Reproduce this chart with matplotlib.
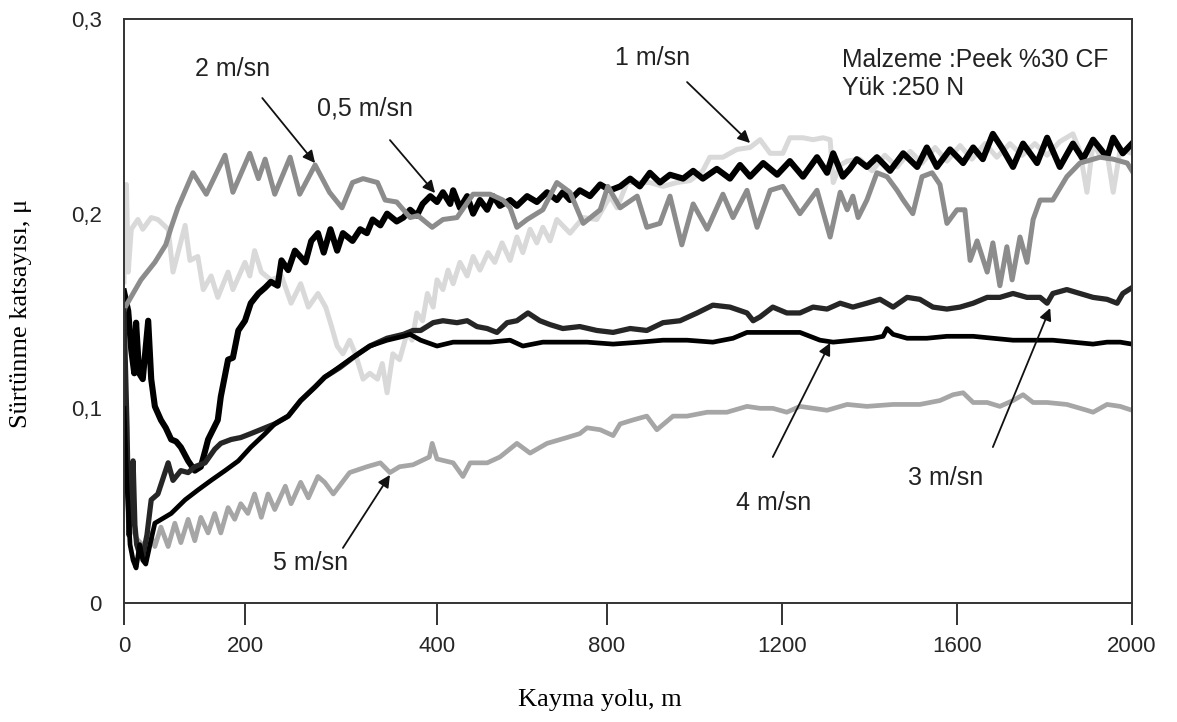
import matplotlib
matplotlib.use('Agg')
import matplotlib.pyplot as plt
import numpy as np

plt.rcParams['font.family'] = ['Liberation Sans', 'DejaVu Sans']

# sliding distance (m) / friction coefficient
# 0,5 m/sn
dist_05 = [0, 7, 12, 17, 20, 25, 31, 40, 45, 51, 61, 69, 78, 86, 94, 106, 117, 127, 134, 139,
           147, 155, 160, 172, 180, 189, 200, 206, 214, 221, 227, 234, 238, 245, 252, 263, 269, 276, 282, 289,
           296, 302, 312, 320, 327, 333, 341, 348, 358, 365, 372, 379, 385, 393, 400, 414, 431, 438, 454, 471,
           485, 501, 518, 532, 548, 572, 588, 612, 635, 659, 682, 696, 713, 736, 760, 784, 807, 830, 853, 875,
           898, 921, 944, 974, 997, 1019, 1051, 1081, 1104, 1127, 1157, 1189, 1218, 1248, 1280, 1303, 1317, 1339, 1355, 1371,
           1394, 1417, 1447, 1477, 1509, 1531, 1554, 1584, 1614, 1637, 1659, 1682, 1705, 1728, 1751, 1783, 1806, 1835, 1865, 1888,
           1911, 1943, 1957, 1979, 2000]
mu_05 = [0.160, 0.150, 0.130, 0.118, 0.144, 0.118, 0.115, 0.145, 0.115, 0.101, 0.094, 0.090, 0.084, 0.083, 0.080, 0.073, 0.068, 0.070, 0.078, 0.084,
         0.089, 0.094, 0.106, 0.125, 0.126, 0.140, 0.145, 0.154, 0.159, 0.162, 0.165, 0.163, 0.176, 0.171, 0.181, 0.175, 0.186, 0.190, 0.180, 0.192,
         0.181, 0.190, 0.186, 0.192, 0.190, 0.197, 0.194, 0.200, 0.196, 0.198, 0.202, 0.199, 0.205, 0.209, 0.206, 0.211, 0.205, 0.212, 0.203, 0.209,
         0.200, 0.207, 0.202, 0.209, 0.204, 0.207, 0.204, 0.209, 0.206, 0.211, 0.207, 0.211, 0.207, 0.212, 0.209, 0.215, 0.212, 0.214, 0.218, 0.214,
         0.221, 0.216, 0.220, 0.218, 0.222, 0.218, 0.223, 0.218, 0.225, 0.219, 0.226, 0.220, 0.227, 0.219, 0.229, 0.221, 0.231, 0.219, 0.223, 0.228,
         0.224, 0.229, 0.222, 0.231, 0.224, 0.234, 0.224, 0.233, 0.226, 0.234, 0.228, 0.241, 0.233, 0.224, 0.236, 0.226, 0.239, 0.224, 0.236, 0.228,
         0.238, 0.229, 0.239, 0.231, 0.236]

# 1 m/sn
dist_1 = [0, 4, 7, 12, 23, 31, 45, 56, 73, 81, 101, 109, 122, 131, 144, 155, 172, 180, 200, 205,
          210, 217, 227, 238, 248, 258, 266, 276, 284, 289, 296, 302, 309, 315, 323, 330, 338, 343, 348, 354,
          361, 369, 374, 379, 385, 390, 396, 400, 414, 426, 438, 454, 471, 485, 501, 520, 536, 553, 572, 588,
          602, 619, 635, 649, 666, 682, 713, 744, 776, 807, 823, 846, 875, 898, 928, 960, 990, 1019, 1035, 1065,
          1097, 1127, 1150, 1173, 1202, 1218, 1248, 1271, 1294, 1310, 1317, 1333, 1349, 1378, 1406, 1435, 1463, 1493, 1520, 1550,
          1577, 1607, 1634, 1664, 1691, 1721, 1749, 1778, 1806, 1835, 1865, 1881, 1897, 1911, 1927, 1943, 1957, 1973, 2000]
mu_1 = [0.165, 0.215, 0.170, 0.192, 0.197, 0.192, 0.198, 0.197, 0.192, 0.170, 0.194, 0.176, 0.178, 0.161, 0.168, 0.157, 0.170, 0.161, 0.175, 0.168,
        0.181, 0.170, 0.166, 0.168, 0.154, 0.164, 0.152, 0.159, 0.152, 0.144, 0.132, 0.128, 0.135, 0.128, 0.115, 0.118, 0.115, 0.123, 0.108, 0.128,
        0.125, 0.139, 0.135, 0.149, 0.145, 0.159, 0.152, 0.166, 0.161, 0.171, 0.164, 0.175, 0.168, 0.178, 0.171, 0.180, 0.175, 0.185, 0.176, 0.188,
        0.180, 0.192, 0.185, 0.193, 0.186, 0.197, 0.190, 0.198, 0.197, 0.209, 0.203, 0.216, 0.216, 0.216, 0.214, 0.216, 0.217, 0.222, 0.229, 0.229,
        0.233, 0.234, 0.238, 0.231, 0.231, 0.239, 0.239, 0.238, 0.239, 0.238, 0.216, 0.225, 0.227, 0.228, 0.222, 0.230, 0.224, 0.232, 0.226, 0.234,
        0.227, 0.235, 0.228, 0.236, 0.229, 0.236, 0.230, 0.236, 0.230, 0.237, 0.241, 0.232, 0.211, 0.236, 0.230, 0.231, 0.211, 0.233, 0.231]

# 2 m/sn
dist_2 = [0, 2, 28, 51, 69, 78, 89, 114, 136, 167, 180, 205, 214, 221, 231, 247, 257, 273, 288, 301,
          312, 323, 338, 346, 358, 372, 380, 395, 414, 447, 485, 525, 555, 572, 588, 612, 649, 682, 713, 744,
          784, 802, 830, 869, 891, 921, 944, 971, 997, 1029, 1065, 1088, 1120, 1143, 1173, 1202, 1241, 1280, 1310, 1333,
          1349, 1362, 1374, 1394, 1417, 1440, 1463, 1477, 1499, 1520, 1543, 1561, 1577, 1600, 1618, 1630, 1646, 1669, 1682, 1698,
          1714, 1726, 1744, 1760, 1774, 1790, 1819, 1851, 1881, 1927, 1957, 1989, 2000]
mu_2 = [0.150, 0.152, 0.166, 0.175, 0.184, 0.193, 0.203, 0.221, 0.210, 0.230, 0.211, 0.231, 0.218, 0.228, 0.210, 0.229, 0.210, 0.225, 0.211, 0.203,
        0.216, 0.218, 0.216, 0.207, 0.206, 0.198, 0.199, 0.193, 0.197, 0.198, 0.210, 0.210, 0.207, 0.203, 0.193, 0.197, 0.202, 0.216, 0.211, 0.195,
        0.202, 0.214, 0.203, 0.209, 0.193, 0.195, 0.209, 0.184, 0.205, 0.192, 0.210, 0.198, 0.212, 0.193, 0.212, 0.214, 0.200, 0.212, 0.188, 0.211,
        0.202, 0.209, 0.198, 0.207, 0.221, 0.219, 0.212, 0.207, 0.200, 0.219, 0.221, 0.215, 0.195, 0.202, 0.202, 0.176, 0.186, 0.170, 0.185, 0.163,
        0.183, 0.166, 0.188, 0.175, 0.197, 0.207, 0.207, 0.219, 0.226, 0.229, 0.228, 0.226, 0.222]

# 3 m/sn
dist_3 = [0, 5, 8, 12, 15, 18, 21, 26, 31, 38, 43, 45, 56, 73, 81, 94, 106, 117, 134, 150,
          160, 177, 193, 206, 221, 231, 245, 258, 273, 283, 299, 315, 330, 348, 365, 375, 383, 396, 414, 447,
          471, 494, 518, 541, 565, 588, 614, 642, 666, 696, 736, 776, 814, 853, 891, 928, 967, 1006, 1042, 1081,
          1120, 1134, 1150, 1179, 1211, 1241, 1271, 1303, 1333, 1362, 1394, 1424, 1454, 1486, 1515, 1545, 1577, 1607, 1637, 1669,
          1698, 1728, 1760, 1790, 1806, 1819, 1851, 1881, 1911, 1943, 1966, 1979, 2000]
mu_3 = [0.150, 0.090, 0.035, 0.050, 0.073, 0.040, 0.030, 0.025, 0.024, 0.035, 0.048, 0.053, 0.056, 0.072, 0.063, 0.068, 0.067, 0.070, 0.072, 0.079,
        0.082, 0.084, 0.085, 0.087, 0.090, 0.092, 0.096, 0.104, 0.111, 0.116, 0.121, 0.127, 0.132, 0.136, 0.138, 0.140, 0.140, 0.144, 0.145, 0.144,
        0.145, 0.142, 0.141, 0.139, 0.144, 0.145, 0.149, 0.145, 0.143, 0.141, 0.142, 0.140, 0.139, 0.141, 0.140, 0.144, 0.145, 0.149, 0.153, 0.152,
        0.149, 0.145, 0.147, 0.152, 0.149, 0.149, 0.152, 0.151, 0.154, 0.152, 0.154, 0.156, 0.152, 0.157, 0.156, 0.152, 0.151, 0.152, 0.154, 0.157,
        0.157, 0.159, 0.157, 0.157, 0.154, 0.159, 0.161, 0.159, 0.157, 0.156, 0.154, 0.159, 0.162]

# 4 m/sn
dist_4 = [0, 5, 10, 15, 20, 26, 31, 36, 43, 51, 78, 101, 122, 144, 167, 189, 206, 221, 231, 245,
          258, 273, 283, 289, 309, 330, 348, 365, 372, 383, 400, 438, 478, 525, 572, 602, 649, 696, 753, 814,
          875, 928, 983, 1042, 1088, 1120, 1157, 1195, 1241, 1287, 1317, 1362, 1408, 1431, 1440, 1454, 1486, 1531, 1577, 1637,
          1682, 1728, 1774, 1819, 1865, 1911, 1943, 1973, 2000]
mu_4 = [0.100, 0.060, 0.030, 0.022, 0.018, 0.030, 0.022, 0.020, 0.030, 0.041, 0.046, 0.053, 0.058, 0.063, 0.068, 0.073, 0.080, 0.087, 0.092, 0.096,
        0.104, 0.111, 0.116, 0.118, 0.125, 0.132, 0.135, 0.137, 0.138, 0.135, 0.132, 0.134, 0.134, 0.134, 0.135, 0.132, 0.134, 0.134, 0.134, 0.133,
        0.134, 0.135, 0.135, 0.134, 0.136, 0.139, 0.139, 0.139, 0.139, 0.135, 0.134, 0.135, 0.136, 0.137, 0.141, 0.138, 0.136, 0.136, 0.137, 0.137,
        0.136, 0.135, 0.135, 0.135, 0.134, 0.133, 0.134, 0.134, 0.133]

# 5 m/sn
dist_5 = [0, 5, 12, 21, 30, 38, 43, 51, 61, 73, 84, 94, 106, 117, 127, 139, 150, 160, 172, 183,
          193, 203, 210, 217, 224, 231, 242, 248, 258, 266, 276, 283, 292, 309, 327, 341, 351, 361, 375, 392,
          395, 400, 438, 461, 478, 518, 548, 588, 619, 659, 706, 736, 753, 784, 814, 830, 859, 891, 914, 951,
          983, 1029, 1074, 1120, 1150, 1179, 1211, 1241, 1303, 1349, 1394, 1454, 1515, 1561, 1591, 1614, 1637, 1669, 1698, 1728,
          1751, 1774, 1806, 1851, 1897, 1911, 1943, 1973, 2000]
mu_5 = [0.100, 0.060, 0.040, 0.033, 0.030, 0.028, 0.036, 0.029, 0.039, 0.029, 0.041, 0.031, 0.043, 0.032, 0.044, 0.036, 0.046, 0.036, 0.049, 0.043,
        0.051, 0.046, 0.056, 0.044, 0.056, 0.048, 0.060, 0.051, 0.062, 0.054, 0.065, 0.062, 0.056, 0.067, 0.070, 0.072, 0.067, 0.070, 0.071, 0.075,
        0.082, 0.074, 0.072, 0.065, 0.072, 0.072, 0.075, 0.082, 0.077, 0.082, 0.085, 0.087, 0.090, 0.089, 0.086, 0.092, 0.094, 0.096, 0.089, 0.096,
        0.096, 0.098, 0.098, 0.101, 0.100, 0.100, 0.098, 0.101, 0.099, 0.102, 0.101, 0.102, 0.102, 0.104, 0.107, 0.108, 0.103, 0.103, 0.101, 0.104,
        0.107, 0.103, 0.103, 0.102, 0.099, 0.098, 0.102, 0.101, 0.099]

# x ticks of the original are not evenly spaced: tick value -> offset along the axis
x_ticks = [0, 200, 400, 800, 1200, 1600, 2000]
x_tick_offsets = [0, 121, 313, 483, 658, 833, 1008]
y_ticks = [0, 0.1, 0.2, 0.3]
y_tick_labels = ['0', '0,1', '0,2', '0,3']


def forward(x):
    return np.interp(x, x_ticks, x_tick_offsets)


def inverse(p):
    return np.interp(p, x_tick_offsets, x_ticks)


fig = plt.figure(figsize=(11.77, 7.22), dpi=100)
ax = fig.add_axes([124 / 1177, 1 - 603 / 722, 1008 / 1177, 584 / 722])
ax.set_xscale('function', functions=(forward, inverse))

# curves (drawing order matters where they cross)
ax.plot(dist_1, mu_1, color='#d9d9d9', lw=3.6, solid_joinstyle='round')
ax.plot(dist_05, mu_05, color='black', lw=4.4, solid_joinstyle='round')
ax.plot(dist_2, mu_2, color='#8c8c8c', lw=3.6, solid_joinstyle='round')
ax.plot(dist_5, mu_5, color='#a6a6a6', lw=3.4, solid_joinstyle='round')
ax.plot(dist_3, mu_3, color='#262626', lw=3.8, solid_joinstyle='round')
ax.plot(dist_4, mu_4, color='black', lw=3.4, solid_joinstyle='round')

# axes
ax.set_xlim(0, 2000)
ax.set_ylim(0, 0.3)
ax.set_xticks(x_ticks)
ax.set_xticklabels([str(t) for t in x_ticks])
ax.set_yticks(y_ticks)
ax.set_yticklabels(y_tick_labels)
ax.tick_params(axis='x', direction='out', length=16, width=1.4, color='#333333',
               pad=8, labelsize=16, labelcolor='#262626')
ax.tick_params(axis='y', length=0, pad=16, labelsize=16, labelcolor='#262626')
for sp in ax.spines.values():
    sp.set_linewidth(1.4)
    sp.set_color('#333333')

ax.set_xlabel('Kayma yolu, m', fontfamily='Liberation Serif', fontsize=19)
ax.xaxis.set_label_coords(0.4717, -0.166)
ax.xaxis.label.set_va('center')
ax.set_ylabel('Sürtünme katsayısı, μ', fontfamily='Liberation Serif', fontsize=19)
ax.yaxis.set_label_coords(-0.102, 0.4966)
ax.yaxis.label.set_va('center')

# speed labels with arrows
arrow = dict(arrowstyle='-|>', color='#111111', lw=1.3, mutation_scale=18, shrinkA=0, shrinkB=0)
labels = [
    ('2 m/sn', (180, 0.2743), (218, 0.2594), (273, 0.226)),
    ('0,5 m/sn', (325, 0.2538), (351, 0.2378), (398, 0.2106)),
    ('1 m/sn', (904, 0.280), (983, 0.2676), (1127, 0.2363)),
    ('5 m/sn', (268, 0.0205), (302, 0.0283), (351, 0.0658)),
    ('4 m/sn', (1182, 0.0514), (1179, 0.075), (1310, 0.1336)),
    ('3 m/sn', (1575, 0.0642), (1682, 0.0801), (1813, 0.1515)),
]
for txt, pos, tail, head in labels:
    ax.text(pos[0], pos[1], txt, fontsize=18, color='#222222', ha='center', va='center')
    ax.annotate('', xy=head, xytext=tail, arrowprops=arrow)

ax.text(1337, 0.279, 'Malzeme :Peek %30 CF', fontsize=17.8, color='#222222', ha='left', va='center')
ax.text(1337, 0.2646, 'Yük :250 N', fontsize=17.8, color='#222222', ha='left', va='center')

fig.savefig('out.png', dpi=100)
